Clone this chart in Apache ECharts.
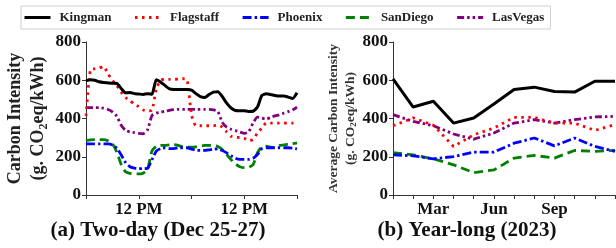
<!DOCTYPE html>
<html>
<head>
<meta charset="utf-8">
<script src="https://cdn.jsdelivr.net/npm/echarts@6/dist/echarts.min.js"></script>
<style>
html, body { margin: 0; padding: 0; background: #fff; }
#main { width: 616px; height: 248px; }
</style>
</head>
<body>
<div id="main"></div>
<script>
var names = ['Kingman', 'Flagstaff', 'Phoenix', 'SanDiego', 'LasVegas'];
var colors = ['#000000', '#ff0000', '#0000ff', '#008000', '#800080'];
var dashes = ['solid', [2.5, 4.5], [9, 3, 2.5, 3], [9, 5], [7, 3, 2.5, 3, 2.5, 3]];

// two-day, hourly (Dec 25-27)
var kingmanDay = [597,603,600,592,588,586,584,583,557,534,536,530,528,526,530,527,603,590,572,555,552,552,552,552,548,530,515,510,525,538,540,515,480,455,442,441,440,437,438,460,520,530,525,520,517,517,512,505,535];
var flagstaffDay = [414,655,660,664,672,634,600,574,537,510,493,475,462,445,440,443,555,600,605,605,605,606,608,603,420,362,362,362,362,362,365,355,330,307,302,300,296,284,290,324,350,376,376,376,376,376,376,376,376];
var phoenixDay = [267,267,267,267,267,267,262,245,210,170,148,141,138,138,140,185,230,243,247,243,243,247,247,247,240,235,233,233,236,240,241,233,220,205,192,186,186,186,192,212,242,247,247,247,247,247,247,245,241];
var sandiegoDay = [284,288,290,290,290,283,268,225,160,122,113,110,110,114,134,230,255,259,260,262,263,259,252,250,250,252,256,259,259,258,254,238,212,185,162,148,143,145,158,220,252,255,250,248,259,262,266,269,272];
var lasvegasDay = [457,457,457,457,454,447,435,412,365,338,330,326,322,320,341,415,428,433,438,443,446,448,448,448,448,448,448,448,448,445,436,380,355,344,337,330,322,330,376,407,402,397,405,414,419,428,436,445,459];

// year-long, monthly average (2023)
var months = ['Jan','Feb','Mar','Apr','May','Jun','Jul','Aug','Sep','Oct','Nov','Dec'];
var kingmanYear = [607,460,490,376,403,476,552,564,541,538,595,595];
var flagstaffYear = [362,403,365,254,315,350,406,406,376,376,338,368];
var phoenixYear = [210,205,189,201,224,224,271,298,257,298,254,228];
var sandiegoYear = [222,210,189,158,117,131,193,207,193,233,228,233];
var lasvegasYear = [420,385,362,319,292,324,376,394,376,394,408,411];

var dayData = [kingmanDay, flagstaffDay, phoenixDay, sandiegoDay, lasvegasDay];
var yearData = [kingmanYear, flagstaffYear, phoenixYear, sandiegoYear, lasvegasYear];

var font = 'Liberation Serif';
var myChart = echarts.init(document.getElementById('main'));

var series = [];
names.forEach(function (n, i) {
    var ls = {color: colors[i], width: i == 0 ? 3 : 2.8, type: dashes[i]};
    series.push({
        name: n, type: 'line', xAxisIndex: 0, yAxisIndex: 0,
        data: dayData[i].map(function (v, h) { return [h, v]; }),
        symbol: 'none', smooth: 0.2, lineStyle: ls, itemStyle: {color: colors[i]},
        z: 10 - i
    });
    series.push({
        name: n, type: 'line', xAxisIndex: 1, yAxisIndex: 1,
        data: yearData[i],
        symbol: 'none', lineStyle: ls, itemStyle: {color: colors[i]},
        z: 10 - i
    });
});

var yAxisBase = {
    type: 'value', min: 0, max: 800, interval: 200,
    splitLine: {show: false},
    axisLine: {show: true, lineStyle: {color: '#333'}},
    axisTick: {show: true, length: 4, lineStyle: {color: '#333'}},
    axisLabel: {fontFamily: font, fontWeight: 'bold', fontSize: 17, color: '#111', margin: 5},
    nameLocation: 'middle'
};

var option = {
    animation: false,
    textStyle: {fontFamily: font},
    legend: {
        data: names,
        left: 21, top: 6,
        padding: [5, 6, 5, 2],
        itemGap: 22, itemWidth: 26, itemHeight: 10,
        borderColor: '#d0d0d0', borderWidth: 1,
        itemStyle: {color: 'transparent', borderWidth: 0, opacity: 0},
        lineStyle: {width: 3},
        textStyle: {fontFamily: font, fontWeight: 'bold', fontSize: 13, color: '#222', padding: [0, 0, 0, 4]}
    },
    title: [
        {text: '(a) Two-day (Dec 25-27)', left: 153, top: 215, textAlign: 'center',
         textStyle: {fontFamily: font, fontWeight: 'bold', fontSize: 21, color: '#111'}},
        {text: '(b) Year-long (2023)', left: 462, top: 215, textAlign: 'center',
         textStyle: {fontFamily: font, fontWeight: 'bold', fontSize: 21, color: '#111'}}
    ],
    grid: [
        {left: 86, right: 319, top: 42, bottom: 53},
        {left: 393, right: 1, top: 42, bottom: 53}
    ],
    xAxis: [
        {
            type: 'value', gridIndex: 0, min: 0, max: 48, interval: 12,
            splitLine: {show: false},
            axisLine: {lineStyle: {color: '#333'}},
            axisTick: {length: 4, lineStyle: {color: '#333'}},
            axisLabel: {
                fontFamily: font, fontWeight: 'bold', fontSize: 17, color: '#111', margin: 6,
                formatter: function (v) { return (v == 12 || v == 36) ? '12 PM' : ''; }
            }
        },
        {
            type: 'category', gridIndex: 1, data: months, boundaryGap: false,
            axisLine: {lineStyle: {color: '#333'}},
            axisTick: {length: 4, interval: 0, lineStyle: {color: '#333'}},
            axisLabel: {
                fontFamily: font, fontWeight: 'bold', fontSize: 17, color: '#111', margin: 6,
                interval: function (idx) { return idx == 2 || idx == 5 || idx == 8; }
            }
        }
    ],
    yAxis: [
        Object.assign({}, yAxisBase, {
            gridIndex: 0,
            name: '{a|Carbon Intensity}\n{a|(g. CO}{s|2}{a|eq/kWh)}',
            nameGap: 36,
            nameTextStyle: {
                lineHeight: 23,
                rich: {
                    a: {fontFamily: font, fontWeight: 'bold', fontSize: 18, color: '#222', lineHeight: 23},
                    s: {fontFamily: font, fontWeight: 'bold', fontSize: 12, color: '#222', verticalAlign: 'bottom', lineHeight: 18}
                }
            }
        }),
        Object.assign({}, yAxisBase, {
            gridIndex: 1,
            name: '{a|Average Carbon Intensity}\n{a|(g. CO}{s|2}{a|eq/kWh)}',
            nameGap: 34,
            nameTextStyle: {
                lineHeight: 17,
                rich: {
                    a: {fontFamily: font, fontWeight: 'bold', fontSize: 13.5, color: '#333', lineHeight: 17},
                    s: {fontFamily: font, fontWeight: 'bold', fontSize: 9, color: '#333', verticalAlign: 'bottom', lineHeight: 13}
                }
            }
        })
    ],
    series: series
};

myChart.setOption(option);
</script>
</body>
</html>
